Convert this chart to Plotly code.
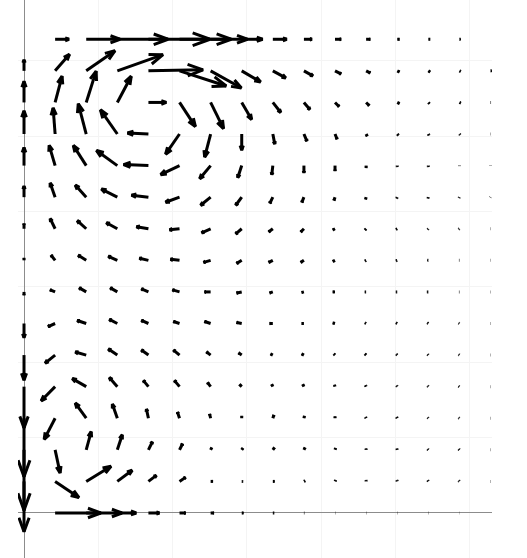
import math
import numpy as np
import plotly.figure_factory as ff

# Grid of sample points (16 x 16), rows listed from top (y max) to bottom (y = 0)
n_cols = 16
n_rows = 16
x_vals = np.linspace(0, 2 * np.pi, n_cols)
y_vals = np.linspace(2 * np.pi, 0, n_rows)

# Horizontal velocity component (rows top -> bottom, columns left -> right)
U = [
    [0, 14, 34, 51, 62, 52, 37, 21, 14, 8, 6, 4, 2, 1.5, 1, 0],
    [0, 14.5, 29, 46, 55, 47, 31, 19, 13, 9, 6, 4, 2, 1.5, 1, 1],
    [0, 7, 10, 14, 18, 16, 13, 10, 8, 6, 4, 3, 2, 1, 1, 0.5],
    [0, -2, -8, -17, -21, -14, -6, 0, 2, 3, 2, 1, 1, 0.5, 0.5, 0.3],
    [0, -6, -13, -21, -25, -19, -11, -4, -1, 0, 0, 0, 0, 0, 0, 0],
    [0, -5, -11, -16, -17, -14, -10, -6, -3, -2, -1, -0.5, -0.5, -0.3, -0.3, -0.2],
    [0, -5, -9, -11, -12, -10, -9, -6, -4, -3, -2, -1, -1, -0.5, -0.5, -0.3],
    [0, -4, -8, -9, -9, -9, -7, -5, -4, -3, -2, -1, -1, -0.7, -0.5, -0.3],
    [0, -5, -7, -7, -7, -7, -6, -5, -3, -2, -2, -1, -1, -1, -0.5, -0.3],
    [0, -7, -9, -8, -7, -6, -6, -5, -3, -2, -2, -1, -1, -0.7, -0.5, -0.3],
    [0, -10, -11, -9, -7, -6, -4, -3, -2, -2, -1, -1, -0.7, -0.5, -0.5, -0.3],
    [0, -14, -14, -8, -5, -5, -3, -2, -1, -1, -0.5, -0.5, -0.5, -0.5, -0.5, -0.3],
    [0, -11, -11, -5, -2, -2, -1, 0, 1, 0.5, 0, -0.5, -0.5, -0.5, -0.5, -0.3],
    [0, 5, 5, 5, 4, 3, 1, 1, 1.5, 1, 0.5, 0, -0.3, -0.5, -0.5, -0.3],
    [0, 24, 25, 15, 8, 6, 2, 1, 1.5, 1, 0.5, 0, -0.3, -0.5, -0.5, -0.3],
    [0, 46, 36, 19, 11, 6, 3, 1.5, 1, 0.5, 0.3, 0.3, 0.3, 0.3, 0.2, 0],
]

# Vertical velocity component (positive = up)
V = [
    [0, 0, 0, 0, 0, 0, 0, 0, 0, 0, 0, 0, 0, 0, 0, 0],
    [11, 16.5, 20, 16, 1, -15, -17, -11, -7, -5, -3, -2, -1, -1, -0.5, 0],
    [21, 26, 31, 26, 0, -24, -26, -17, -10, -7, -4, -3, -1, -1, -0.5, 0],
    [23, 26, 30, 24, 1, -20, -23, -16, -10, -7, -5, -2, -1, -1, -0.5, 0],
    [18, 20, 20, 15, 1, -9, -13, -12, -9, -7, -5, -2, -1, -1, -0.5, -0.3],
    [11, 14, 12, 8, 2, -5, -8, -8, -6, -5, -3, -2, -1, -1, -0.5, -0.3],
    [5, 10, 8, 6, 2, -1, -4, -5, -3, -3, -1, -1, -0.5, -0.5, -0.3, 0],
    [2, 5, 5, 4, 2, 1, -2, -3, -2, -2, -1, -0.5, -0.3, 0, 0, 0],
    [-3, 2, 4, 4, 3, 2, 0, -1, -1, -0.5, 0, 0, 0, 0, 0, 0],
    [-14, -3, 3, 4, 3, 2, 2, 1, 0, 0, 0.5, 0.5, 0.5, 0.5, 0.3, 0],
    [-25, -8, 3, 6, 5, 5, 3, 2, 1, 1, 1, 1, 0.7, 0.5, 0.3, 0],
    [-41, -14, 8, 9, 6, 6, 4, 2, 2, 2, 1.5, 1, 0.7, 0.5, 0.3, 0],
    [-58, -21, 15, 14, 9, 6, 4, 2, 3, 2, 1.5, 1, 1, 0.5, 0.3, 0],
    [-60, -23, 18, 15, 8, 6, 2, 1.5, 2, 2, 1.5, 1, 1, 0.5, 0.5, 0],
    [-50, -16, 15, 11, 6, 4, 0, 0, 0, 0.5, 1, 1, 1, 0.7, 0.5, 0],
    [0, 0, 0, 0, 0, 0, 0, 0, 0, 0, 0, 0, 0, 0, 0, 0],
]

X, Y = np.meshgrid(x_vals, y_vals)
u = np.array(U, dtype=float) / 31.3
v = np.array(V, dtype=float) / 31.3
cell = x_vals[1] - x_vals[0]

fig = ff.create_quiver(
    X.flatten(), Y.flatten(), u.flatten(), v.flatten(),
    scale=cell, arrow_scale=0.3, angle=math.pi / 9,
    line=dict(width=3, color="black"),
)

axis_common = dict(
    showgrid=True, gridcolor="#f4f4f4", gridwidth=1, dtick=1,
    zeroline=True, zerolinecolor="#8c8c8c", zerolinewidth=1,
    showticklabels=False, ticks="", showline=False,
)

fig.update_layout(
    width=527, height=558,
    margin=dict(l=18, r=35, t=0, b=0),
    plot_bgcolor="white", paper_bgcolor="white",
    showlegend=False,
    xaxis=dict(range=[-0.081, 6.303], **axis_common),
    yaxis=dict(range=[-0.597, 6.804], **axis_common),
)

fig.write_html(
    "out.html",
    config={"displayModeBar": False},
    post_script="document.body.style.margin='0';",
)
